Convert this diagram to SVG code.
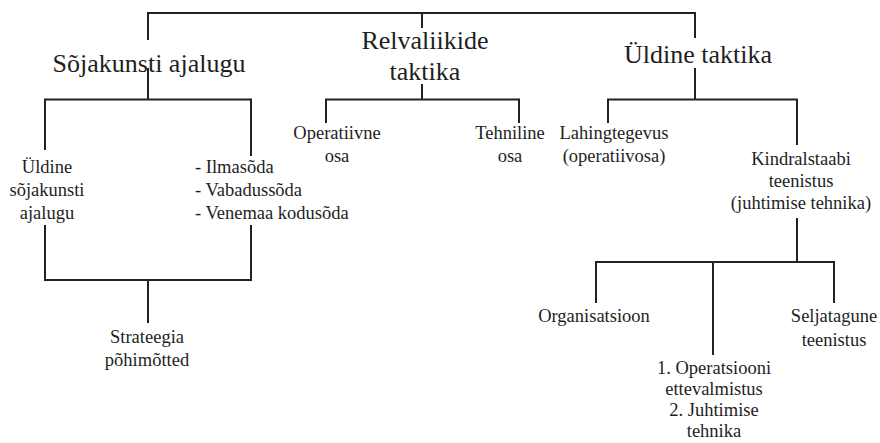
<svg xmlns="http://www.w3.org/2000/svg" width="880" height="443" viewBox="0 0 880 443" font-family="'Liberation Serif', 'DejaVu Serif', serif">
<style>
text{fill:#1e1e1e;text-anchor:middle}
.big{font-size:26px}
.sm{font-size:18.5px}
.l{text-anchor:start}
#connectors path{fill:none;stroke:#222;stroke-width:2}
</style>
<rect width="880" height="443" fill="#fff"/>
<g id="connectors">
<path d="M148,40 V13 H695 V38 M422,13 V28"/>
<path d="M148,68 V99.5 M45,150 V99.5 H251 V156"/>
<path d="M422,84 V99.5 M326,123 V99.5 H519 V123"/>
<path d="M695,68 V99.5 M608,123 V99.5 H797 V145"/>
<path d="M45,225 V280 H251 V225 M148,280 V323"/>
<path d="M797,218 V262 M596,303 V262 H834 V303 M713,262 V355"/>
</g>
<g id="n-root-left"><text class="big" x="149" y="72">Sõjakunsti ajalugu</text></g>
<g id="n-root-mid"><text class="big" x="425" y="49">Relvaliikide</text><text class="big" x="425" y="80">taktika</text></g>
<g id="n-root-right"><text class="big" x="698" y="63">Üldine taktika</text></g>
<g id="n-uldine"><text class="sm" x="47" y="173">Üldine</text><text class="sm" x="47" y="196">sõjakunsti</text><text class="sm" x="47" y="219">ajalugu</text></g>
<g id="n-sojad"><text class="sm l" x="195" y="173">- Ilmasõda</text><text class="sm l" x="195" y="196">- Vabadussõda</text><text class="sm l" x="195" y="219">- Venemaa kodusõda</text></g>
<g id="n-strateegia"><text class="sm" x="147" y="343">Strateegia</text><text class="sm" x="147" y="366">põhimõtted</text></g>
<g id="n-operatiivne"><text class="sm" x="337" y="139">Operatiivne</text><text class="sm" x="337" y="162">osa</text></g>
<g id="n-tehniline"><text class="sm" x="510" y="139">Tehniline</text><text class="sm" x="510" y="162">osa</text></g>
<g id="n-lahing"><text class="sm" x="614" y="139">Lahingtegevus</text><text class="sm" x="614" y="162">(operatiivosa)</text></g>
<g id="n-kindral"><text class="sm" x="801" y="165">Kindralstaabi</text><text class="sm" x="801" y="187">teenistus</text><text class="sm" x="801" y="209">(juhtimise tehnika)</text></g>
<g id="n-org"><text class="sm" x="594" y="322">Organisatsioon</text></g>
<g id="n-operatsioon"><text class="sm" x="714" y="374">1. Operatsiooni</text><text class="sm" x="714" y="395">ettevalmistus</text><text class="sm" x="714" y="416">2. Juhtimise</text><text class="sm" x="714" y="437">tehnika</text></g>
<g id="n-seljatagune"><text class="sm" x="834" y="322">Seljatagune</text><text class="sm" x="834" y="346">teenistus</text></g>
</svg>
